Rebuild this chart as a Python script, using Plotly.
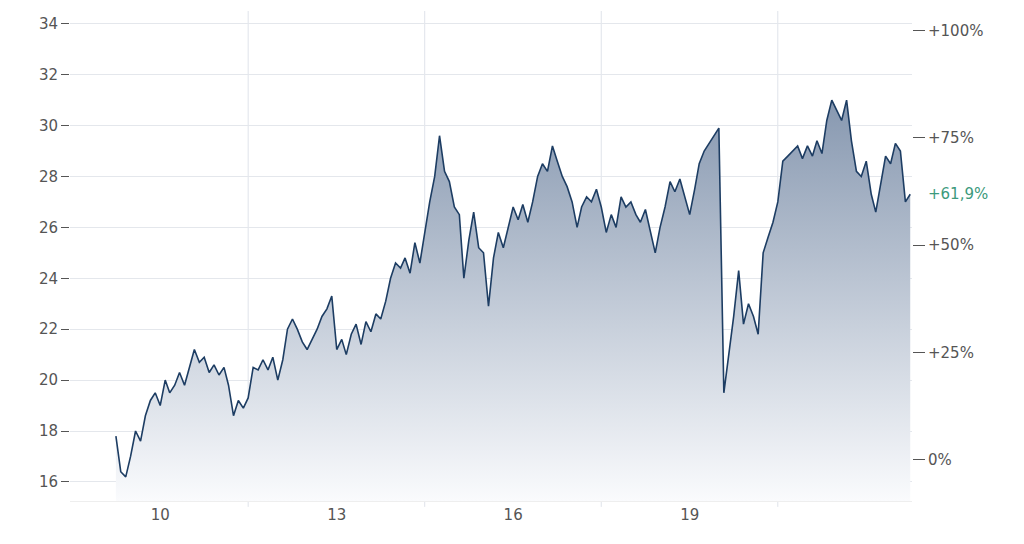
import pandas as pd
import plotly.graph_objects as go

# monthly closing prices, Apr 2009 .. Oct 2022
start_month = "2009-04-01"
prices = [
    17.8, 16.4, 16.2, 17.0, 18.0, 17.6, 18.6, 19.2, 19.5, 19.0,
    20.0, 19.5, 19.8, 20.3, 19.8, 20.5, 21.2, 20.7, 20.9, 20.3,
    20.6, 20.2, 20.5, 19.8, 18.6, 19.2, 18.9, 19.3, 20.5, 20.4,
    20.8, 20.4, 20.9, 20.0, 20.8, 22.0, 22.4, 22.0, 21.5, 21.2,
    21.6, 22.0, 22.5, 22.8, 23.3, 21.2, 21.6, 21.0, 21.8, 22.2,
    21.4, 22.3, 21.9, 22.6, 22.4, 23.1, 24.0, 24.6, 24.4, 24.8,
    24.2, 25.4, 24.6, 25.8, 27.0, 28.0, 29.6, 28.2, 27.8, 26.8,
    26.5, 24.0, 25.5, 26.6, 25.2, 25.0, 22.9, 24.8, 25.8, 25.2,
    26.0, 26.8, 26.3, 26.9, 26.2, 27.0, 28.0, 28.5, 28.2, 29.2,
    28.6, 28.0, 27.6, 27.0, 26.0, 26.8, 27.2, 27.0, 27.5, 26.8,
    25.8, 26.5, 26.0, 27.2, 26.8, 27.0, 26.5, 26.2, 26.7, 25.9,
    25.0, 26.0, 26.8, 27.8, 27.4, 27.9, 27.2, 26.5, 27.5, 28.5,
    29.0, 29.3, 29.6, 29.9, 19.5, 21.0, 22.5, 24.3, 22.2, 23.0,
    22.5, 21.8, 25.0, 25.6, 26.2, 27.0, 28.6, 28.8, 29.0, 29.2,
    28.7, 29.2, 28.8, 29.4, 28.9, 30.2, 31.0, 30.6, 30.2, 31.0,
    29.4, 28.2, 28.0, 28.6, 27.3, 26.6, 27.8, 28.8, 28.5, 29.3,
    29.0, 27.0, 27.3,
]
base_price = 16.87
last_change = "+61,9%"

x_tickvals = ["2010-01-01", "2013-01-01", "2016-01-01", "2019-01-01"]
x_ticktext = ["10", "13", "16", "19"]
grid_dates = ["2011-07-01", "2014-07-01", "2017-07-01", "2020-07-01"]
y_ticks = [16, 18, 20, 22, 24, 26, 28, 30, 32, 34]
pct_ticks = [0, 25, 50, 75, 100]
pct_text = ["0%", "+25%", "+50%", "+75%", "+100%"]

dates = pd.date_range(start_month, periods=len(prices), freq="MS")
y_lo, y_hi = 15.25, 34.5
pct_lo = (y_lo / base_price - 1) * 100
pct_hi = (y_hi / base_price - 1) * 100

grey = "#555555"
fig = go.Figure()
fig.add_trace(go.Scatter(
    x=dates, y=prices, mode="lines", line=dict(color="#1d3d63", width=1.6),
    fill="tozeroy",
    fillgradient=dict(type="vertical", start=y_lo, stop=31,
                      colorscale=[[0, "rgba(250,251,253,1)"], [1, "#8798b0"]]),
    showlegend=False, hoverinfo="x+y"))
fig.add_trace(go.Scatter(x=[dates[0]], y=[0], yaxis="y2", mode="markers",
                         marker=dict(opacity=0), showlegend=False, hoverinfo="skip"))

for d in grid_dates:
    fig.add_shape(type="line", xref="x", yref="paper", x0=d, x1=d, y0=-0.012, y1=1,
                  line=dict(color="#dfe3ea", width=1), layer="below")

fig.add_annotation(x=1, xref="paper", xanchor="left", xshift=14,
                   y=(prices[-1] / base_price - 1) * 100, yref="y2",
                   text=last_change, showarrow=False,
                   font=dict(color="#3c9a7c", size=15))

fig.update_layout(
    width=1024, height=544, margin=dict(l=62, r=120, t=3, b=51),
    plot_bgcolor="white", paper_bgcolor="white",
    font=dict(family="DejaVu Sans", size=15, color=grey),
    xaxis=dict(range=["2008-06-20", "2022-10-12"], tickvals=x_tickvals, ticktext=x_ticktext,
               showgrid=False, zeroline=False, showline=True, linecolor="#eeeeee"),
    yaxis=dict(range=[y_lo, y_hi], tickvals=y_ticks, ticks="outside", ticklen=8,
               tickcolor=grey, gridcolor="#e4e7ec", zeroline=False),
    yaxis2=dict(range=[pct_lo, pct_hi], overlaying="y", side="right",
                tickvals=pct_ticks, ticktext=pct_text, ticks="outside", ticklen=12,
                tickcolor=grey, showgrid=False, zeroline=False),
)
fig.write_html("out.html")
